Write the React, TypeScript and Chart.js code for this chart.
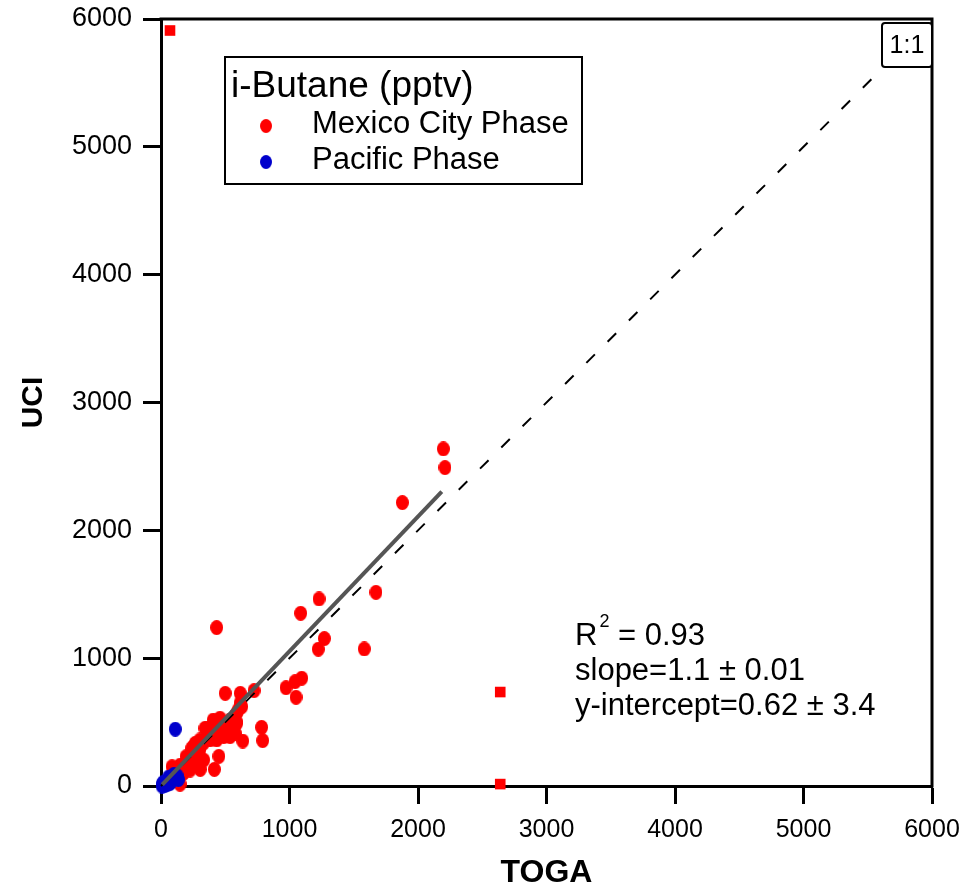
import React, { useEffect, useRef } from 'react';
import { Chart, registerables } from 'chart.js';

Chart.register(...registerables);

// ---------------- data ----------------
const AXIS_TICKS = [0, 1000, 2000, 3000, 4000, 5000, 6000];
const AXIS_TICK_LABELS = ['0', '1000', '2000', '3000', '4000', '5000', '6000'];
const X_TITLE = 'TOGA';
const Y_TITLE = 'UCI';
const LEGEND_TITLE = 'i-Butane (pptv)';
const SERIES_NAMES = ['Mexico City Phase', 'Pacific Phase'];
const STATS_LINES = ['R', '2', ' = 0.93', 'slope=1.1 \u00b1 0.01', 'y-intercept=0.62 \u00b1 3.4'];
const ONE_TO_ONE_LABEL = '1:1';

const mexicoX = [
  2197, 2210, 1878, 1673, 1230, 1087, 1271, 1224, 1582, 433, 1095, 1043, 973, 1051,
  500, 617, 724, 615, 628, 601, 589, 783, 791, 636, 584, 553, 537, 459, 407, 360,
  511, 524, 578, 433, 488, 537, 423, 384, 450, 415, 305, 303, 239, 303, 252, 278,
  195, 200, 148, 226, 174, 122, 329, 381, 319, 267, 252, 293, 267, 332, 150, 111,
  215, 86, 174, 459, 342, 589, 303, 60, 40, 100,
];
const mexicoY = [
  2637, 2491, 2217, 1515, 1463, 1351, 1153, 1070, 1072, 1239, 843, 816, 769, 694,
  725, 725, 746, 647, 620, 595, 569, 459, 355, 352, 503, 491, 516, 530, 516, 451,
  438, 425, 412, 360, 386, 386, 386, 425, 232, 130, 130, 216, 295, 282, 230, 229,
  229, 164, 14, 125, 99, 99, 334, 360, 347, 334, 307, 256, 203, 203, 164, 125,
  151, 151, 151, 464, 451, 490, 360, 50, 30, 80,
];
const mexicoOutlierX = [70, 2640, 2640];
const mexicoOutlierY = [5910, 735, 15];

const pacificX = [111, 8, 20, 45, 60, 80, 100, 125, 135, 30, 10, 70, 110];
const pacificY = [444, 0, 30, 10, 70, 40, 90, 80, 50, 5, 15, 20, 60];

const fitX = [10, 2185];
const fitY = [11, 2303];
const oneToOneX = [0, 5600];
const oneToOneY = [0, 5600];

// ---------------- styling ----------------
const RED = '#ff0000';
const BLUE = '#0000cc';
const SANS = "'Liberation Sans', Arial, sans-serif";

function ellipseMarker(color: string, w: number, h: number) {
  const c = document.createElement('canvas');
  c.width = w;
  c.height = h;
  const g = c.getContext('2d')!;
  g.fillStyle = color;
  g.beginPath();
  g.ellipse(w / 2, h / 2, w / 2, h / 2, 0, 0, Math.PI * 2);
  g.fill();
  return c;
}

const toPts = (xs: number[], ys: number[]) => xs.map((x, i) => ({ x, y: ys[i] }));

export default function App() {
  const ref = useRef<HTMLCanvasElement | null>(null);

  useEffect(() => {
    if (!ref.current) return;
    const redMarker = ellipseMarker(RED, 13, 15);
    const blueMarker = ellipseMarker(BLUE, 13, 15);

    const decor = {
      id: 'decor',
      afterDraw(chart: any) {
        const { ctx, chartArea: ca } = chart;
        ctx.save();
        // frame (top and right)
        ctx.strokeStyle = '#000';
        ctx.lineWidth = 3;
        ctx.beginPath();
        ctx.moveTo(ca.left - 1.5, ca.top);
        ctx.lineTo(ca.right, ca.top);
        ctx.lineTo(ca.right, ca.bottom + 1.5);
        ctx.stroke();

        // legend
        const lx = ca.left + 64;
        const ly = ca.top + 38;
        ctx.lineWidth = 2;
        ctx.strokeRect(lx, ly, 357, 127);
        ctx.fillStyle = '#000';
        ctx.textAlign = 'left';
        ctx.textBaseline = 'alphabetic';
        ctx.font = `37px ${SANS}`;
        ctx.fillText(LEGEND_TITLE, lx + 6, ly + 40);
        ctx.font = `31px ${SANS}`;
        ctx.drawImage(redMarker, lx + 41 - 6, ly + 69 - 7, 12, 14);
        ctx.fillText(SERIES_NAMES[0], lx + 87, ly + 76);
        ctx.drawImage(blueMarker, lx + 41 - 6, ly + 105 - 7, 12, 14);
        ctx.fillText(SERIES_NAMES[1], lx + 87, ly + 112);

        // 1:1 box
        ctx.lineWidth = 2;
        ctx.beginPath();
        (ctx as any).roundRect(ca.right - 50, ca.top + 4, 50, 44, 3);
        ctx.fillStyle = '#fff';
        ctx.fill();
        ctx.stroke();
        ctx.fillStyle = '#000';
        ctx.font = `25px ${SANS}`;
        ctx.textAlign = 'center';
        ctx.textBaseline = 'middle';
        ctx.fillText(ONE_TO_ONE_LABEL, ca.right - 25, ca.top + 27);

        // stats
        ctx.textAlign = 'left';
        ctx.textBaseline = 'alphabetic';
        const sx = ca.left + 414;
        ctx.font = `31px ${SANS}`;
        ctx.fillText(STATS_LINES[0], sx, ca.top + 626);
        const rw = ctx.measureText(STATS_LINES[0]).width;
        ctx.font = `18px ${SANS}`;
        ctx.fillText(STATS_LINES[1], sx + rw + 2, ca.top + 608);
        const sw = ctx.measureText(STATS_LINES[1]).width;
        ctx.font = `31px ${SANS}`;
        ctx.fillText(STATS_LINES[2], sx + rw + 2 + sw, ca.top + 626);
        ctx.fillText(STATS_LINES[3], sx, ca.top + 661);
        ctx.fillText(STATS_LINES[4], sx, ca.top + 696);
        ctx.restore();
      },
    };

    const axisCommon = (title: string, titleSize: number, titleLH: number, tickFont: any, tickPad: number) => ({
      type: 'linear',
      min: 0,
      max: 6000,
      afterBuildTicks: (s: any) => {
        s.ticks = AXIS_TICKS.map((v) => ({ value: v }));
      },
      ticks: {
        color: '#000',
        font: tickFont,
        padding: tickPad,
        autoSkip: false,
        maxRotation: 0,
        callback: (v: number) => AXIS_TICK_LABELS[AXIS_TICKS.indexOf(v)] ?? String(v),
      },
      grid: {
        drawOnChartArea: false,
        drawTicks: true,
        tickLength: 18,
        tickWidth: 3,
        tickColor: '#000',
      },
      border: { display: true, width: 3, color: '#000' },
      title: {
        display: true,
        text: title,
        color: '#000',
        font: { family: SANS, size: titleSize, weight: 'bold', lineHeight: titleLH },
        padding: { top: 0, bottom: 0 },
      },
    });

    const zeroPad = (s: any) => {
      s.paddingTop = 0;
      s.paddingBottom = 0;
      s.paddingLeft = 0;
      s.paddingRight = 0;
    };

    const xAxis: any = axisCommon(X_TITLE, 32, 1, { family: SANS, size: 25 }, 11);
    xAxis.afterFit = (s: any) => {
      s.height = 103;
      zeroPad(s);
    };
    const yAxis: any = axisCommon(Y_TITLE, 30, 1, { family: SANS, size: 27 }, 11);
    yAxis.afterFit = (s: any) => {
      s.width = 161;
      zeroPad(s);
    };
    yAxis.title.padding = { top: 19, bottom: 0 };

    const chart = new Chart(ref.current, {
      type: 'scatter',
      data: {
        datasets: [
          {
            label: 'fit',
            data: toPts(fitX, fitY),
            showLine: true,
            borderColor: '#555555',
            borderWidth: 4,
            pointRadius: 0,
            order: 0,
            clip: false,
          },
          {
            label: ONE_TO_ONE_LABEL,
            data: toPts(oneToOneX, oneToOneY),
            showLine: true,
            borderColor: '#000',
            borderWidth: 2,
            borderDash: [12, 18],
            pointRadius: 0,
            order: 1,
            clip: false,
          },
          {
            label: SERIES_NAMES[1],
            data: toPts(pacificX, pacificY),
            pointStyle: blueMarker,
            pointRadius: 7,
            order: 2,
            clip: false,
          },
          {
            label: SERIES_NAMES[0],
            data: toPts(mexicoX, mexicoY),
            pointStyle: redMarker,
            pointRadius: 7,
            order: 3,
            clip: false,
          },
          {
            label: SERIES_NAMES[0] + ' (outliers)',
            data: toPts(mexicoOutlierX, mexicoOutlierY),
            pointStyle: 'rect',
            pointRadius: 7.5,
            backgroundColor: RED,
            borderWidth: 0,
            order: 4,
            clip: false,
          },
        ],
      } as any,
      options: {
        animation: false,
        responsive: false,
        maintainAspectRatio: false,
        events: [],
        layout: { padding: { top: 19, right: 35, bottom: 0, left: 0 } },
        plugins: { legend: { display: false }, tooltip: { enabled: false } },
        scales: { x: xAxis, y: yAxis },
      } as any,
      plugins: [decor],
    });
    return () => chart.destroy();
  }, []);

  return (
    <div style={{ position: 'fixed', left: 0, top: 0, width: 967, height: 889, background: '#fff' }}>
      <canvas ref={ref} width={967} height={889} style={{ display: 'block' }} />
    </div>
  );
}
